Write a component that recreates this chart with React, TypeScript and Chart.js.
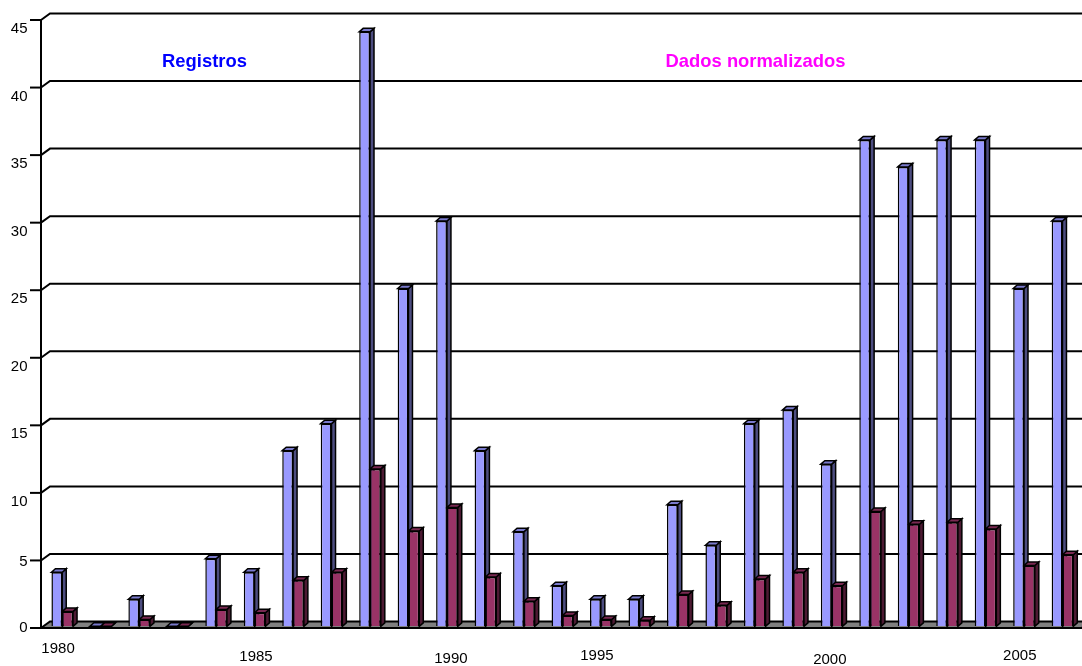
import React, { useEffect, useRef } from 'react';
import { Chart, registerables } from 'chart.js';

Chart.register(...registerables);

// ---------- data ----------
const years = [
  '1980', '1981', '1982', '1983', '1984', '1985', '1986', '1987', '1988', '1989',
  '1990', '1991', '1992', '1993', '1994', '1995', '1996', '1997', '1998', '1999',
  '2000', '2001', '2002', '2003', '2004', '2005', '2006',
];
const registros = [
  4, 0, 2, 0, 5, 4, 13, 15, 44, 25,
  30, 13, 7, 3, 2, 2, 9, 6, 15, 16,
  12, 36, 34, 36, 36, 25, 30,
];
const dadosNormalizados = [
  1.1, 0, 0.5, 0, 1.25, 1.0, 3.4, 4.0, 11.65, 7.05,
  8.8, 3.65, 1.85, 0.8, 0.5, 0.45, 2.35, 1.55, 3.5, 4.0,
  3.0, 8.5, 7.55, 7.7, 7.2, 4.5, 5.3,
];
const yTicks = [0, 5, 10, 15, 20, 25, 30, 35, 40, 45];
const xTickYears = ['1980', '1985', '1990', '1995', '2000', '2005'];
const seriesNames = ['Registros', 'Dados normalizados'];

// ---------- style ----------
const FONT = '"Liberation Sans", Arial, Helvetica, sans-serif';
const frontColors = ['#9999FF', '#993366'];
const topColors = ['#7A7ACC', '#7A2952'];
const sideColors = ['#4D4D80', '#4D1A33'];
const titleColors = ['#0000FF', '#FF00FF'];
const AXIS_X = 41;
const AXIS_DY = 1.7; // axis plane below bar plane
const WALL_DX = 9;
const WALL_DY = -6.5;
const BAR_DX = 4;
const BAR_DY = -3.5;
const BAR_LINE = 1.5;
// per-label shifts (dx from category centre, dy below floor front edge)
const xLabelShift: Record<string, [number, number]> = {
  '1980': [-4.2, 20.5],
  '1985': [1.4, 29],
  '1990': [4, 30.5],
  '1995': [-42.4, 28],
  '2000': [-1.8, 32],
  '2005': [-4.2, 28],
};
const yLabelShift = [0, 1, 9, 9, 9, 9, 9, 9, 9, 9];

const threeDPlugin = {
  id: 'threeD',
  beforeDatasetsDraw(chart: any) {
    const ctx = chart.ctx as CanvasRenderingContext2D;
    const ys = chart.scales.y;
    const area = chart.chartArea;
    const fy = (v: number) => ys.getPixelForValue(v) + AXIS_DY;
    ctx.save();
    // floor
    const y0 = fy(0);
    ctx.fillStyle = '#808080';
    ctx.beginPath();
    ctx.moveTo(AXIS_X, y0);
    ctx.lineTo(area.right, y0);
    ctx.lineTo(area.right + WALL_DX, y0 + WALL_DY);
    ctx.lineTo(AXIS_X + WALL_DX, y0 + WALL_DY);
    ctx.closePath();
    ctx.fill();
    // wall gridlines
    ctx.strokeStyle = '#000';
    ctx.lineWidth = 2;
    ctx.lineJoin = 'miter';
    yTicks.forEach((v) => {
      const py = fy(v);
      ctx.beginPath();
      ctx.moveTo(AXIS_X, py);
      ctx.lineTo(AXIS_X + WALL_DX, py + WALL_DY);
      ctx.lineTo(chart.width + 20, py + WALL_DY);
      ctx.stroke();
    });
    // bar sides and tops
    ctx.lineWidth = BAR_LINE;
    chart.data.datasets.forEach((_ds: any, di: number) => {
      const meta = chart.getDatasetMeta(di);
      meta.data.forEach((el: any) => {
        const p = el.getProps(['x', 'y', 'base', 'width'], true);
        const l = p.x - p.width / 2;
        const r = p.x + p.width / 2;
        const top = p.y;
        const base = p.base;
        ctx.fillStyle = sideColors[di];
        ctx.beginPath();
        ctx.moveTo(r, top);
        ctx.lineTo(r + BAR_DX, top + BAR_DY);
        ctx.lineTo(r + BAR_DX, base + BAR_DY);
        ctx.lineTo(r, base);
        ctx.closePath();
        ctx.fill();
        ctx.stroke();
        ctx.fillStyle = topColors[di];
        ctx.beginPath();
        ctx.moveTo(l, top);
        ctx.lineTo(l + BAR_DX, top + BAR_DY);
        ctx.lineTo(r + BAR_DX, top + BAR_DY);
        ctx.lineTo(r, top);
        ctx.closePath();
        ctx.fill();
        ctx.stroke();
      });
    });
    ctx.restore();
  },
  afterDatasetsDraw(chart: any) {
    const ctx = chart.ctx as CanvasRenderingContext2D;
    const ys = chart.scales.y;
    const xs = chart.scales.x;
    const area = chart.chartArea;
    const fy = (v: number) => ys.getPixelForValue(v) + AXIS_DY;
    const y0 = fy(0);
    ctx.save();
    ctx.strokeStyle = '#000';
    // floor front edge + right edge
    ctx.lineWidth = 2;
    ctx.beginPath();
    ctx.moveTo(AXIS_X, y0);
    ctx.lineTo(area.right, y0);
    ctx.lineTo(area.right + WALL_DX, y0 + WALL_DY);
    ctx.stroke();
    // y axis line
    ctx.beginPath();
    ctx.moveTo(AXIS_X, fy(yTicks[yTicks.length - 1]) - 1);
    ctx.lineTo(AXIS_X, y0 + 1);
    ctx.stroke();
    // tick marks + labels
    ctx.font = `15px ${FONT}`;
    ctx.fillStyle = '#000';
    ctx.textAlign = 'right';
    ctx.textBaseline = 'middle';
    yTicks.forEach((v, i) => {
      const py = fy(v);
      ctx.beginPath();
      ctx.moveTo(AXIS_X - 11, py);
      ctx.lineTo(AXIS_X, py);
      ctx.stroke();
      ctx.fillText(String(v), 27.5, py + yLabelShift[i]);
    });
    // x labels
    ctx.textAlign = 'center';
    xTickYears.forEach((yr) => {
      const idx = years.indexOf(yr);
      const sh = xLabelShift[yr] || [0, 25];
      ctx.fillText(yr, xs.getPixelForValue(idx) + sh[0], y0 + sh[1]);
    });
    // series captions
    ctx.font = `bold 18.4px ${FONT}`;
    ctx.textBaseline = 'alphabetic';
    ctx.fillStyle = titleColors[0];
    ctx.fillText(seriesNames[0], 204.5, 67);
    ctx.fillStyle = titleColors[1];
    ctx.fillText(seriesNames[1], 755.5, 67);
    ctx.restore();
  },
};

export default function App() {
  const canvasRef = useRef<HTMLCanvasElement | null>(null);

  useEffect(() => {
    if (!canvasRef.current) return;
    const chart = new Chart(canvasRef.current, {
      type: 'bar',
      data: {
        labels: years,
        datasets: [
          {
            label: seriesNames[0],
            data: registros,
            backgroundColor: frontColors[0],
            borderColor: '#000',
            borderWidth: BAR_LINE,
            barPercentage: 1,
            categoryPercentage: 0.562,
          },
          {
            label: seriesNames[1],
            data: dadosNormalizados,
            backgroundColor: frontColors[1],
            borderColor: '#000',
            borderWidth: BAR_LINE,
            barPercentage: 1,
            categoryPercentage: 0.562,
          },
        ],
      },
      options: {
        animation: false,
        responsive: false,
        maintainAspectRatio: false,
        layout: { padding: { left: 43, right: 0.3, top: 18.3, bottom: 39.7 } },
        plugins: {
          legend: { display: false },
          tooltip: { enabled: false },
          title: { display: false },
        },
        scales: {
          x: { display: false, offset: true },
          y: { display: false, min: 0, max: 45 },
        },
      },
      plugins: [threeDPlugin],
    });
    return () => chart.destroy();
  }, []);

  return (
    <div style={{ position: 'fixed', left: 0, top: 0, width: 1082, height: 666, background: '#fff' }}>
      <canvas ref={canvasRef} width={1082} height={666} style={{ display: 'block' }} />
    </div>
  );
}
